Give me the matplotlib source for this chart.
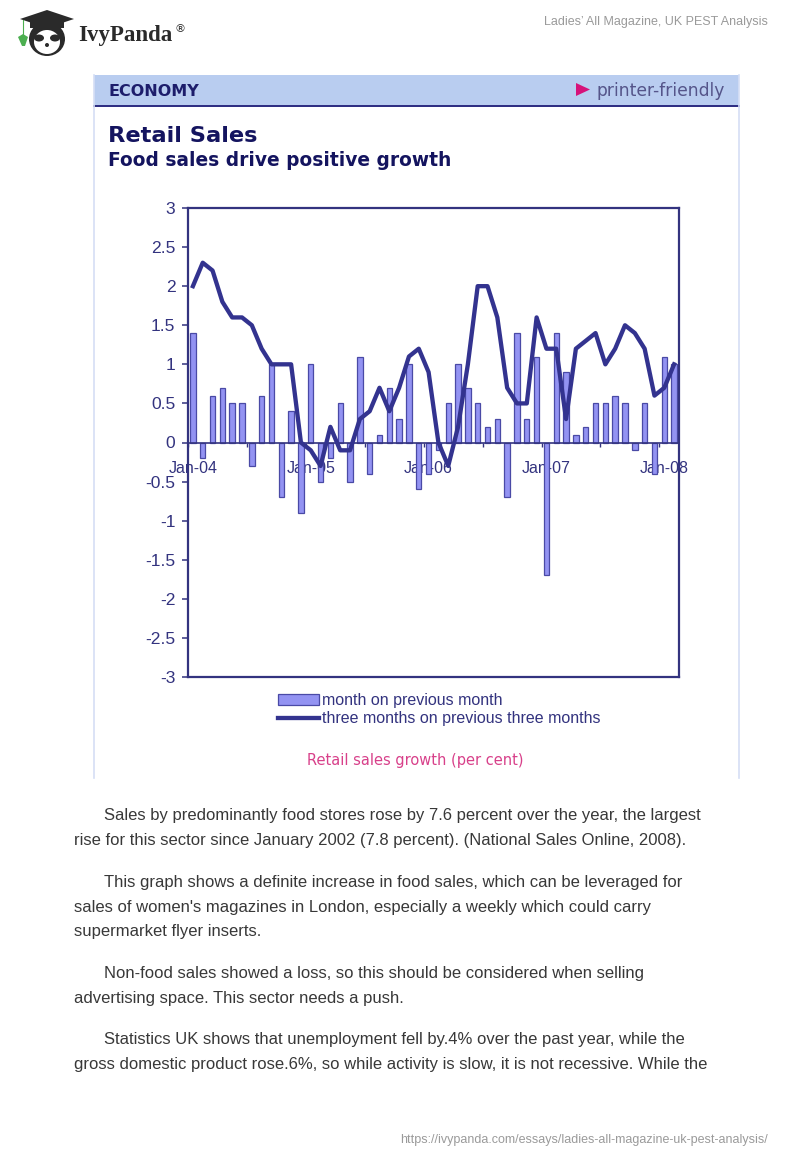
import matplotlib
matplotlib.use("Agg")
import matplotlib.pyplot as plt
from matplotlib.patches import Rectangle, Polygon, Circle, Ellipse

W, H = 800, 1160

# values, Jan-04 .. Feb-08
month_on_month = [1.4, -0.2, 0.6, 0.7, 0.5, 0.5, -0.3, 0.6, 1.0, -0.7,
                  0.4, -0.9, 1.0, -0.5, -0.2, 0.5, -0.5, 1.1, -0.4, 0.1,
                  0.7, 0.3, 1.0, -0.6, -0.4, -0.1, 0.5, 1.0, 0.7, 0.5,
                  0.2, 0.3, -0.7, 1.4, 0.3, 1.1, -1.7, 1.4, 0.9, 0.1,
                  0.2, 0.5, 0.5, 0.6, 0.5, -0.1, 0.5, -0.4, 1.1, 1.0]
three_months = [2.0, 2.3, 2.2, 1.8, 1.6, 1.6, 1.5, 1.2, 1.0, 1.0,
                1.0, 0.0, -0.1, -0.3, 0.2, -0.1, -0.1, 0.3, 0.4, 0.7,
                0.4, 0.7, 1.1, 1.2, 0.9, 0.0, -0.3, 0.2, 1.0, 2.0,
                2.0, 1.6, 0.7, 0.5, 0.5, 1.6, 1.2, 1.2, 0.3, 1.2,
                1.3, 1.4, 1.0, 1.2, 1.5, 1.4, 1.2, 0.6, 0.7, 1.0]
months = list(range(len(month_on_month)))

year_pos = [0, 12, 24, 36, 48]
year_labels = ["Jan-04", "Jan-05", "Jan-06", "Jan-07", "Jan-08"]
y_ticks = [3, 2.5, 2, 1.5, 1, 0.5, 0, -0.5, -1, -1.5, -2, -2.5, -3]
y_labels = ["3", "2.5", "2", "1.5", "1", "0.5", "0", "-0.5", "-1", "-1.5", "-2", "-2.5", "-3"]

body_lines = [
    (104, 820, "Sales by predominantly food stores rose by 7.6 percent over the year, the largest"),
    (74, 845, "rise for this sector since January 2002 (7.8 percent). (National Sales Online, 2008)."),
    (104, 887, "This graph shows a definite increase in food sales, which can be leveraged for"),
    (74, 912, "sales of women's magazines in London, especially a weekly which could carry"),
    (74, 936, "supermarket flyer inserts."),
    (104, 978, "Non-food sales showed a loss, so this should be considered when selling"),
    (74, 1003, "advertising space. This sector needs a push."),
    (104, 1044, "Statistics UK shows that unemployment fell by.4% over the past year, while the"),
    (74, 1069, "gross domestic product rose.6%, so while activity is slow, it is not recessive. While the"),
]

NAVY = "#33337f"
plt.rcParams["font.family"] = ["Liberation Sans", "DejaVu Sans"]

fig = plt.figure(figsize=(W / 100, H / 100), dpi=100, facecolor="white")

# page furniture, in pixel coordinates
bg = fig.add_axes([0, 0, 1, 1])
bg.set_xlim(0, W)
bg.set_ylim(H, 0)
bg.axis("off")

bg.add_patch(Rectangle((94, 75), 645, 30, fc="#b9cdf0", ec="none"))
bg.plot([94, 739], [105.5, 105.5], color="#2a2a80", lw=1.4)
bg.plot([93.5, 93.5], [75, 778], color="#d5def5", lw=1.2)
bg.plot([738.5, 738.5], [75, 778], color="#d5def5", lw=1.2)
bg.text(108, 91, "ECONOMY", family="DejaVu Sans", weight="bold", fontsize=11.5,
        color="#1d1d6b", va="center")
bg.add_patch(Polygon([(576, 83), (576, 96), (590, 89.5)], fc="#d6127a", ec="none"))
bg.text(597, 91, "printer-friendly", family="DejaVu Sans", fontsize=12.3,
        color="#55558a", va="center")
bg.text(108, 136, "Retail Sales", family="DejaVu Sans", weight="bold", fontsize=16.2,
        color="#14145f", va="center")
bg.text(108, 161, "Food sales drive positive growth", family="DejaVu Sans", weight="bold",
        fontsize=13.4, color="#14145f", va="center")
bg.text(415, 760, "Retail sales growth (per cent)", family="DejaVu Sans", fontsize=10.5,
        color="#d8408a", ha="center", va="center")

bg.text(768, 22, "Ladies\u2019 All Magazine, UK PEST Analysis", fontsize=9, color="#9a9a9a",
        ha="right", va="center")
bg.text(768, 1140, "https://ivypanda.com/essays/ladies-all-magazine-uk-pest-analysis/",
        fontsize=9, color="#9a9a9a", ha="right", va="center")
for x, y, line in body_lines:
    bg.text(x, y, line, fontsize=12, color="#383838", va="baseline")

# logo
bg.add_patch(Ellipse((47, 39), 36, 34, fc="#2a2a2a", ec="none"))
bg.add_patch(Ellipse((47, 42), 26, 24, fc="white", ec="none"))
bg.add_patch(Polygon([(20, 19), (47, 10), (74, 19), (47, 28)], fc="#2a2a2a", ec="none"))
bg.add_patch(Rectangle((30, 21), 34, 7, fc="#2a2a2a", ec="none"))
bg.add_patch(Ellipse((39, 38), 10, 7, fc="#2a2a2a", ec="none"))
bg.add_patch(Ellipse((55, 38), 10, 7, fc="#2a2a2a", ec="none"))
bg.add_patch(Circle((47, 45), 2, fc="#2a2a2a", ec="none"))
bg.plot([23, 23], [20, 35], color="#4caf50", lw=0.8)
bg.add_patch(Polygon([(18, 37), (23, 34), (28, 37), (25, 46), (22, 46)], fc="#4caf50", ec="none"))
bg.text(78, 35, "IvyPanda", family="Liberation Serif", weight="bold", fontsize=16.5,
        color="#2a2a2a", va="center")
bg.text(175, 29, "\u00ae", family="DejaVu Sans", fontsize=8, color="#2a2a2a", va="center")

# chart
ax = fig.add_axes([188 / W, 1 - 677 / H, 491 / W, 469 / H])
ax.patch.set_alpha(0)
bars = ax.bar(months, month_on_month, width=0.55, color="#9393f2", edgecolor="#4a4aa6",
              linewidth=0.9, label="month on previous month", zorder=2)
line, = ax.plot(months, three_months, color="#33338f", lw=3.1, solid_joinstyle="round",
                label="three months on previous three months", zorder=3)
ax.set_xlim(-0.5, 49.5)
ax.set_ylim(-3, 3)

ax.spines["bottom"].set_position(("data", 0))
ax.axhline(-3, color=NAVY, lw=1.6, clip_on=False, zorder=1)
for s in ax.spines.values():
    s.set_color(NAVY)
    s.set_linewidth(1.2)
ax.spines["top"].set_linewidth(1.6)
ax.spines["left"].set_linewidth(1.6)
ax.spines["right"].set_linewidth(1.6)

ax.set_yticks(y_ticks)
ax.set_yticklabels(y_labels, fontsize=12.6, color=NAVY)
ax.tick_params(axis="y", length=4, width=1.1, color=NAVY, pad=5)
ax.set_xticks(year_pos)
ax.set_xticklabels(year_labels, fontsize=11.5, color=NAVY)
ax.tick_params(axis="x", which="major", length=0, pad=13)
ax.set_xticks([m - 0.5 for m in range(0, 50, 6)], minor=True)
ax.tick_params(axis="x", which="minor", length=3, width=1, color=NAVY)

fig.legend(handles=[bars, line], loc="upper left", bbox_to_anchor=(275 / W, 1 - 690 / H),
           frameon=False, fontsize=11.5, labelcolor=NAVY, ncol=1, labelspacing=0.2,
           handlelength=2.55, handleheight=0.6, handletextpad=0.22, borderpad=0.2, borderaxespad=0)

fig.savefig("out.png", dpi=100)
